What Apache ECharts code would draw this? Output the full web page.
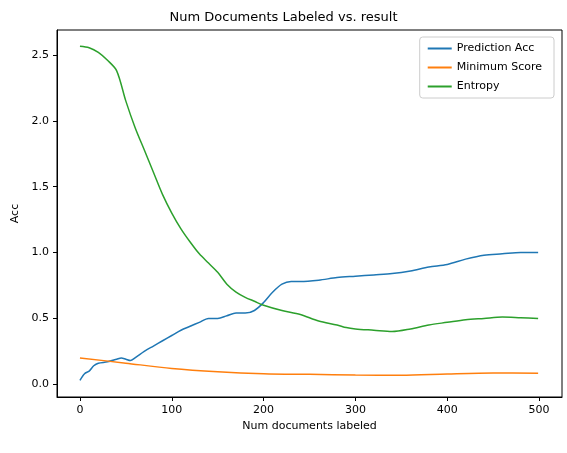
<!DOCTYPE html><html><head><meta charset="utf-8"><script src="https://cdn.jsdelivr.net/npm/echarts@6/dist/echarts.min.js"></script>
<style>html,body{margin:0;background:#fff}#c{width:567px;height:453px}</style></head><body><div id="c"></div><script>
const accX=[0,5,10,15,20,30,40,45,50,55,60,70,80,90,100,110,120,130,140,150,160,170,180,190,200,210,220,230,240,260,280,300,320,340,360,380,400,420,440,460,480,499];
const accY=[0.03,0.08,0.1,0.14,0.16,0.17,0.19,0.2,0.19,0.18,0.2,0.25,0.29,0.33,0.37,0.41,0.44,0.47,0.5,0.5,0.52,0.54,0.54,0.56,0.62,0.70,0.76,0.78,0.78,0.79,0.81,0.82,0.83,0.84,0.86,0.89,0.91,0.95,0.98,0.99,1.0,1.0];
const minX=[0,50,100,150,200,250,300,350,400,450,499];
const minY=[0.2,0.16,0.12,0.095,0.08,0.075,0.07,0.068,0.078,0.085,0.083];
const entX=[0,10,20,30,40,50,60,70,80,90,100,110,120,130,140,150,160,170,180,190,200,220,240,260,280,290,300,320,340,360,380,400,420,440,460,480,499];
const entY=[2.566,2.555,2.52,2.46,2.38,2.15,1.95,1.78,1.61,1.44,1.3,1.18,1.08,0.99,0.92,0.85,0.76,0.70,0.66,0.63,0.60,0.56,0.53,0.48,0.45,0.43,0.42,0.41,0.40,0.42,0.45,0.47,0.49,0.50,0.51,0.505,0.50];
const z=(xs,ys)=>xs.map((x,i)=>[x,ys[i]]);
const f='DejaVu Sans';
const line={onZero:false,lineStyle:{color:'#000'}};
const ch=echarts.init(document.getElementById('c'));
const s=(n,d,c)=>({name:n,type:'line',data:d,showSymbol:false,smooth:0.3,lineStyle:{color:c,width:1.5},itemStyle:{color:c}});
ch.setOption({animation:false,
title:{text:'Num Documents Labeled vs. result',left:'center',top:6,textStyle:{fontFamily:f,fontSize:13,fontWeight:'normal',color:'#000'}},
legend:{right:13,top:37,orient:'vertical',itemWidth:24,itemHeight:2,itemGap:8,icon:'rect',borderColor:'#ccc',borderWidth:1,borderRadius:3,padding:[6,12,6,8],textStyle:{fontFamily:f,fontSize:11,color:'#000'}},
grid:{left:57,right:5,top:30,bottom:56,show:true,borderColor:'#000',borderWidth:1},
xAxis:{type:'value',min:-25,max:525,interval:100,name:'Num documents labeled',nameLocation:'middle',nameGap:24,nameTextStyle:{fontFamily:f,fontSize:11,color:'#000'},axisLine:line,splitLine:{show:false},axisLabel:{color:'#000',fontFamily:f,fontSize:11,customValues:[0,100,200,300,400,500]},axisTick:{customValues:[0,100,200,300,400,500],lineStyle:{color:'#000'},length:4}},
yAxis:{type:'value',min:-0.097,max:2.69,name:'Acc',nameLocation:'middle',nameGap:36,nameTextStyle:{fontFamily:f,fontSize:11,color:'#000'},axisLine:line,splitLine:{show:false},axisLabel:{color:'#000',fontFamily:f,fontSize:11,formatter:v=>v.toFixed(1),customValues:[0,0.5,1,1.5,2,2.5]},axisTick:{customValues:[0,0.5,1,1.5,2,2.5],lineStyle:{color:'#000'},length:4}},
series:[s('Prediction Acc',z(accX,accY),'#1f77b4'),s('Minimum Score',z(minX,minY),'#ff7f0e'),s('Entropy',z(entX,entY),'#2ca02c')]});
</script></body></html>
